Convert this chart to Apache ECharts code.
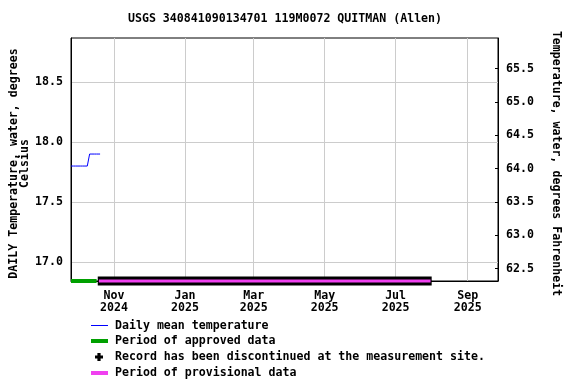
<!DOCTYPE html>
<html>
<head>
<meta charset="utf-8">
<script src="https://cdn.jsdelivr.net/npm/echarts@6/dist/echarts.min.js"></script>
<style>
html,body{margin:0;padding:0;background:#fff;}
#chart{width:576px;height:384px;}
</style>
</head>
<body>
<div id="chart"></div>
<script>
// ---- data ----
const TITLE = 'USGS 340841090134701 119M0072 QUITMAN (Allen)';
const DAILY_DATES = [
  '2024-09-25','2024-09-26','2024-09-27','2024-09-28','2024-09-29','2024-09-30',
  '2024-10-01','2024-10-02','2024-10-03','2024-10-04','2024-10-05','2024-10-06',
  '2024-10-07','2024-10-08','2024-10-09','2024-10-10','2024-10-11','2024-10-12',
  '2024-10-13','2024-10-14','2024-10-15','2024-10-16','2024-10-17','2024-10-18',
  '2024-10-19','2024-10-20'
];
const DAILY_TEMP_C = [
  17.8,17.8,17.8,17.8,17.8,17.8,
  17.8,17.8,17.8,17.8,17.8,17.8,
  17.8,17.8,17.8,17.8,17.9,17.9,
  17.9,17.9,17.9,17.9,17.9,17.9,
  17.9,17.9
];
const APPROVED_PERIOD = ['2024-09-25','2024-10-17'];
const DISCONTINUED_PERIOD = ['2024-10-18','2025-08-01'];
const PROVISIONAL_PERIOD = ['2024-10-19','2025-07-31'];

const X_RANGE = ['2024-09-25','2025-09-27'];
const X_TICK_DATES = ['2024-11-01','2025-01-01','2025-03-01','2025-05-01','2025-07-01','2025-09-01'];
const X_TICK_LABELS = ['Nov\n2024','Jan\n2025','Mar\n2025','May\n2025','Jul\n2025','Sep\n2025'];
const Y_RANGE_C = [16.842, 18.867];
const Y_TICKS_C = [17.0, 17.5, 18.0, 18.5];
const Y_TICKS_F = [62.5, 63.0, 63.5, 64.0, 64.5, 65.0, 65.5];

const NAMES = ['Daily mean temperature','Period of approved data',
  'Record has been discontinued at the measurement site.','Period of provisional data'];

// ---- helpers ----
const ts = d => Date.UTC(+d.slice(0,4), +d.slice(5,7)-1, +d.slice(8,10));
const c2f = c => c * 1.8 + 32;
const FONT = 'DejaVu Sans Mono';
const txt = {fontFamily: FONT, fontSize: 11.6, fontWeight: 'bold', color: '#000'};

const xTickTs = X_TICK_DATES.map(ts);
const dailyData = DAILY_DATES.map((d, i) => [ts(d), DAILY_TEMP_C[i]]);
const bottomY = Y_RANGE_C[0];
const periodData = p => p.map(d => [ts(d), bottomY]);

const chart = echarts.init(document.getElementById('chart'), null, {renderer: 'canvas'});

const legendBase = (name, icon, left, top, w, h, padLeft) => ({
  data: [{name: name, icon: icon}],
  left: left, top: top, orient: 'vertical', padding: 0,
  itemWidth: w, itemHeight: h,
  itemStyle: {borderWidth: 0},
  textStyle: Object.assign({}, txt, {padding: [0,0,0,padLeft], lineHeight: 14}),
  selectedMode: false
});

chart.setOption({
  animation: false,
  backgroundColor: '#fff',
  title: {
    text: TITLE, left: 285, top: 12, textAlign: 'center', padding: 0,
    textStyle: Object.assign({}, txt, {lineHeight: 14})
  },
  grid: {left: 71, right: 78, top: 38, bottom: 103, show: true, borderColor: '#000', borderWidth: 1,
         containLabel: false, outerBoundsMode: 'none'},
  legend: [
    legendBase(NAMES[0], 'rect', 91, 318.5, 17, 1, 2),
    legendBase(NAMES[1], 'rect', 91, 334, 17, 4, 2),
    legendBase(NAMES[2], 'path://M3,0H7V3H10V7H7V10H3V7H0V3H3Z', 95, 350, 8, 10, 7),
    legendBase(NAMES[3], 'rect', 91, 366, 17, 4, 2)
  ],
  xAxis: {
    type: 'value', min: ts(X_RANGE[0]), max: ts(X_RANGE[1]),
    axisLine: {show: true, lineStyle: {color: '#000', width: 1}},
    axisTick: {show: false, customValues: xTickTs},
    axisLabel: Object.assign({}, txt, {
      customValues: xTickTs, margin: 9, lineHeight: 12,
      formatter: v => { const i = xTickTs.indexOf(v); return i >= 0 ? X_TICK_LABELS[i] : ''; }
    }),
    splitLine: {show: true, lineStyle: {color: '#cccccc', width: 1}}
  },
  yAxis: [
    {
      type: 'value', min: Y_RANGE_C[0], max: Y_RANGE_C[1], position: 'left',
      name: 'DAILY Temperature, water, degrees\nCelsius',
      nameLocation: 'middle', nameRotate: 90, nameGap: 41, nameMoveOverlap: false,
      nameTextStyle: Object.assign({}, txt, {lineHeight: 11, padding: [0, 8, 0, 0]}),
      axisLine: {show: true, lineStyle: {color: '#000'}},
      axisTick: {show: false, customValues: Y_TICKS_C},
      axisLabel: Object.assign({}, txt, {customValues: Y_TICKS_C, margin: 8, formatter: v => v.toFixed(1)}),
      splitLine: {show: true, lineStyle: {color: '#cccccc', width: 1}}
    },
    {
      type: 'value', min: c2f(Y_RANGE_C[0]), max: c2f(Y_RANGE_C[1]), position: 'right',
      name: 'Temperature, water, degrees Fahrenheit',
      nameLocation: 'middle', nameRotate: -90, nameGap: 52, nameMoveOverlap: false,
      nameTextStyle: Object.assign({}, txt, {padding: [0, 0, 0, 8]}),
      axisLine: {show: true, lineStyle: {color: '#000'}},
      axisTick: {show: true, inside: true, length: 3, customValues: Y_TICKS_F, lineStyle: {color: '#000'}},
      axisLabel: Object.assign({}, txt, {customValues: Y_TICKS_F, margin: 8, formatter: v => v.toFixed(1)}),
      splitLine: {show: false}
    }
  ],
  series: [
    {
      name: NAMES[0], type: 'line', data: dailyData, showSymbol: false, symbol: 'none',
      color: '#0000ff', lineStyle: {color: '#0000ff', width: 1}, z: 3
    },
    {
      name: NAMES[1], type: 'line', data: periodData(APPROVED_PERIOD), showSymbol: false, symbol: 'none',
      color: '#00a000', lineStyle: {color: '#00a000', width: 4}, clip: false, z: 4
    },
    {
      name: NAMES[2], type: 'line', data: periodData(DISCONTINUED_PERIOD), showSymbol: false, symbol: 'none',
      color: '#000000', lineStyle: {color: '#000000', width: 9}, clip: false, z: 5
    },
    {
      name: NAMES[3], type: 'line', data: periodData(PROVISIONAL_PERIOD), showSymbol: false, symbol: 'none',
      color: '#f040f0', lineStyle: {color: '#f040f0', width: 3}, clip: false, z: 6
    }
  ]
});
</script>
</body>
</html>
